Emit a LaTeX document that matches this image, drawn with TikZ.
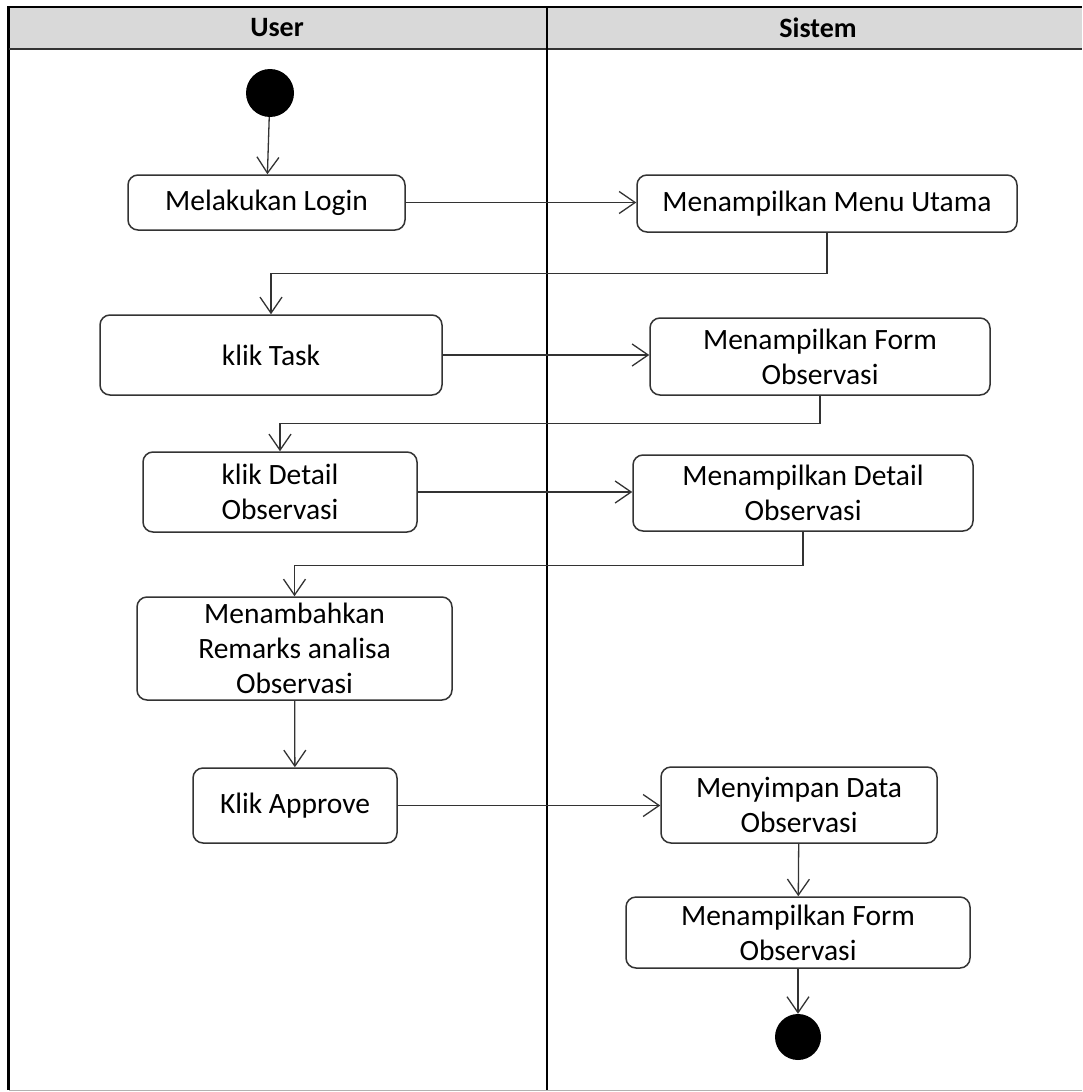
\documentclass[tikz,border=0pt]{standalone}
\usepackage{fontspec}
\setmainfont{Carlito}
\usepackage{xcolor}
\usepackage{tikz}
\usetikzlibrary{arrows.meta,positioning}
\definecolor{lanegray}{HTML}{D9D9D9}
\definecolor{linegray}{HTML}{333333}
\tikzset{
  actbox/.style={rounded corners=10pt, draw=linegray, line width=1.5pt, fill=white, align=center, inner sep=2pt, font=\fontsize{29.5}{35}\selectfont},
  startdot/.style={circle, fill=black, draw=none, minimum size=48pt, inner sep=0pt},
  enddot/.style={circle, fill=black, draw=none, minimum size=46pt, inner sep=0pt},
  arrow/.style={-{Straight Barb[length=16pt, width=22pt, line width=1.3pt]}, line width=1.3pt, draw=linegray},
  lanehead/.style={font=\fontsize{28}{35}\selectfont\bfseries}
}

\begin{document}
\begin{tikzpicture}[x=1pt, y=-1pt]
  \useasboundingbox (0,0) rectangle (1082,1092);
  % swimlanes
  \fill[lanegray] (9,8) rectangle (1082,49);
  \draw[line width=2.5pt, black] (8.5,1090) -- (8.5,7) -- (1082,7);
  \draw[line width=2.5pt, linegray] (9,49) -- (1082,49);
  \draw[line width=1pt, black!30] (9,1090) -- (1082,1090);
  \draw[line width=2pt, black] (547,8) -- (547,1090);
  \node[lanehead] (userlane) at (277,28) {User};
  \node[lanehead] (sistemlane) at (818,28) {Sistem};

  % activities
  \node[startdot] (start) at (270,93) {};
  \node[actbox, minimum width=277pt, minimum height=55pt] (login) at (266.5,202.5) {Melakukan Login};
  \node[actbox, minimum width=380pt, minimum height=57pt] (menu) at (827,203.5) {Menampilkan Menu Utama};
  \node[actbox, minimum width=342pt, minimum height=80pt] (task) at (271,355) {klik Task};
  \node[actbox, minimum width=340pt, minimum height=77pt] (form) at (820,356.5) {Menampilkan Form\\Observasi};
  \node[actbox, minimum width=274pt, minimum height=80pt] (kdetail) at (280,492) {klik Detail\\Observasi};
  \node[actbox, minimum width=340pt, minimum height=76pt] (mdetail) at (803,493) {Menampilkan Detail\\Observasi};
  \node[actbox, minimum width=315pt, minimum height=103pt] (remarks) at (294.5,648.5) {Menambahkan\\Remarks analisa\\Observasi};
  \node[actbox, minimum width=204pt, minimum height=75pt] (approve) at (295,805.5) {Klik Approve};
  \node[actbox, minimum width=276pt, minimum height=76pt] (save) at (799,805) {Menyimpan Data\\Observasi};
  \node[actbox, minimum width=344pt, minimum height=71pt] (form2) at (798,932.5) {Menampilkan Form\\Observasi};
  \node[enddot] (end) at (798,1037) {};

  % flows
  \draw[arrow] (start) -- (login);
  \draw[arrow] (login.east) -- (login.east -| menu.west);
  \draw[arrow] (menu.south) -- ++(0,41) -| (task.north);
  \draw[arrow] (task.east) -- (task.east -| form.west);
  \draw[arrow] (form.south) -- ++(0,28) -| (kdetail.north);
  \draw[arrow] (kdetail.east) -- (kdetail.east -| mdetail.west);
  \draw[arrow] (mdetail.south) -- ++(0,34) -| (remarks.north);
  \draw[arrow] (remarks) -- (approve);
  \draw[arrow] (approve.east) -- (approve.east -| save.west);
  \draw[arrow] (save) -- (form2);
  \draw[arrow] (form2) -- (end);
\end{tikzpicture}
\end{document}
